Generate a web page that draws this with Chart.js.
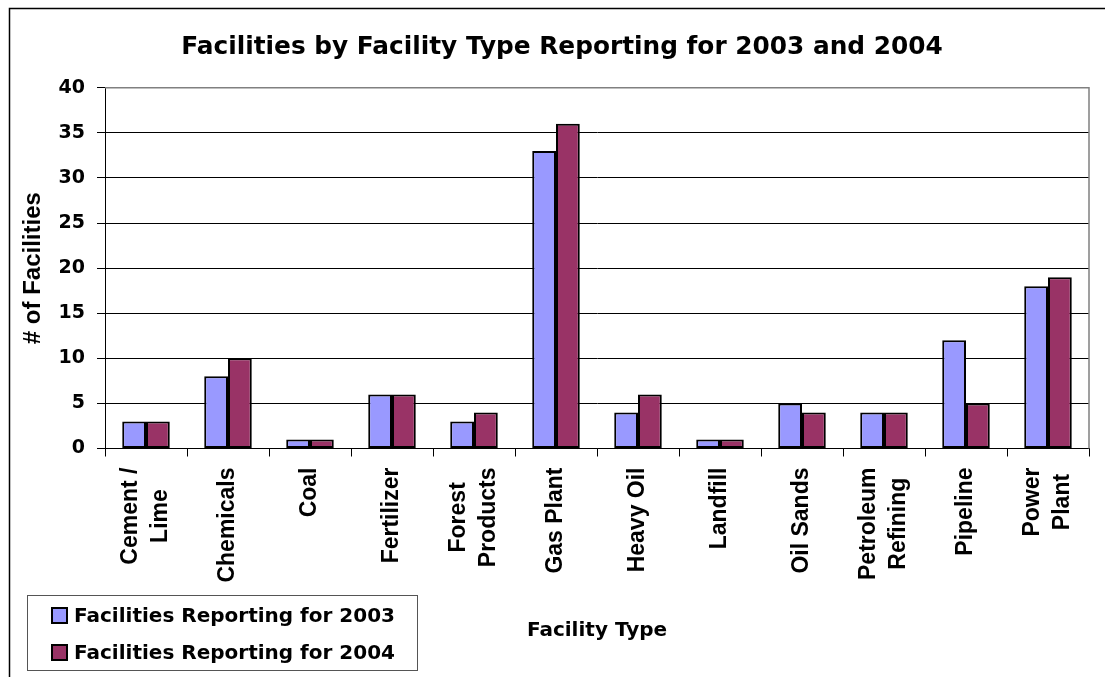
<!DOCTYPE html>
<html>
<head>
<meta charset="utf-8">
<title>Facilities by Facility Type Reporting for 2003 and 2004</title>
<script src="https://cdn.jsdelivr.net/npm/chart.js@4.4.1/dist/chart.umd.min.js"></script>
<style>
  html, body { margin: 0; padding: 0; background: #fff; }
  canvas { display: block; }
</style>
</head>
<body>
<canvas id="facilityChart" width="1105" height="677"></canvas>
<script>
// chart values
const facilityTypes = [['Cement /', 'Lime'], 'Chemicals', 'Coal', 'Fertilizer', ['Forest', 'Products'],
    'Gas Plant', 'Heavy Oil', 'Landfill', 'Oil Sands', ['Petroleum', 'Refining'], 'Pipeline', ['Power', 'Plant']];
const reporting2003 = [3, 8, 1, 6, 3, 33, 4, 1, 5, 4, 12, 18];
const reporting2004 = [3, 10, 1, 6, 4, 36, 6, 1, 4, 4, 5, 19];
const seriesNames = ['Facilities Reporting for 2003', 'Facilities Reporting for 2004'];
const yMin = 0;
const yMax = 40;
const yStep = 5;

const boldSans = '"DejaVu Sans", sans-serif';
const arialLike = '"Liberation Sans", Arial, sans-serif';

// white page with the black frame on the left and top
const framePlugin = {
    id: 'frame',
    beforeDraw: function(chart) {
        const ctx = chart.ctx;
        ctx.save();
        ctx.fillStyle = '#fff';
        ctx.fillRect(0, 0, chart.width, chart.height);
        ctx.strokeStyle = '#000';
        ctx.lineWidth = 1.5;
        ctx.beginPath();
        ctx.moveTo(9.5, chart.height);
        ctx.lineTo(9.5, 8.5);
        ctx.lineTo(chart.width, 8.5);
        ctx.stroke();
        ctx.restore();
    },
    afterDatasetsDraw: function(chart) {
        const a = chart.chartArea;
        const ctx = chart.ctx;
        ctx.save();
        ctx.strokeStyle = '#808080';
        ctx.lineWidth = 1.5;
        ctx.beginPath();
        ctx.moveTo(a.left, a.top);
        ctx.lineTo(a.right, a.top);
        ctx.lineTo(a.right, a.bottom);
        ctx.stroke();
        ctx.restore();
    }
};

// centre multi-line rotated category labels on their tick, lines centred on each other
const centreLabels = {
    id: 'centreLabels',
    afterLayout: function(chart) {
        const scale = chart.scales.x;
        const items = scale.getLabelItems();
        const ctx = chart.ctx;
        items.forEach(function(item) {
            const lines = Array.isArray(item.label) ? item.label : [item.label];
            ctx.save();
            ctx.font = item.font.string;
            const maxW = Math.max.apply(null, lines.map(function(l) { return ctx.measureText(l).width; }));
            ctx.restore();
            const lh = item.font.lineHeight;
            item.options.translation[0] -= (lines.length - 1) * lh / 2;
            item.options.translation[1] += maxW / 2;
            item.options.textAlign = 'center';
        });
    }
};

// boxed legend in the bottom left corner
const boxLegend = {
    id: 'boxLegend',
    afterDraw: function(chart) {
        const ctx = chart.ctx;
        ctx.save();
        ctx.strokeStyle = '#555';
        ctx.lineWidth = 1;
        ctx.strokeRect(27.5, 595.5, 390, 75);
        ctx.font = 'bold 20px ' + boldSans;
        ctx.textBaseline = 'middle';
        ctx.textAlign = 'left';
        chart.data.datasets.forEach(function(ds, i) {
            const cy = 615.5 + i * 37;
            ctx.fillStyle = ds.backgroundColor;
            ctx.fillRect(52, cy - 7.5, 15, 15);
            ctx.strokeStyle = '#000';
            ctx.lineWidth = 2;
            ctx.strokeRect(52, cy - 7.5, 15, 15);
            ctx.fillStyle = '#000';
            ctx.fillText(ds.label, 74, cy + 1);
        });
        ctx.restore();
    }
};

const ctx = document.getElementById('facilityChart').getContext('2d');
const facilityChart = new Chart(ctx, {
    type: 'bar',
    data: {
        labels: facilityTypes,
        datasets: [{
            label: seriesNames[0],
            data: reporting2003,
            backgroundColor: '#9999FF',
            borderColor: '#000',
            borderWidth: 2,
            borderSkipped: false
        }, {
            label: seriesNames[1],
            data: reporting2004,
            backgroundColor: '#993366',
            borderColor: '#000',
            borderWidth: 2,
            borderSkipped: false
        }]
    },
    options: {
        responsive: false,
        animation: false,
        categoryPercentage: 0.58,
        barPercentage: 1,
        layout: {
            padding: { left: 35, right: 16, top: 0, bottom: 0 }
        },
        plugins: {
            legend: { display: false },
            tooltip: { enabled: false },
            title: {
                display: true,
                text: 'Facilities by Facility Type Reporting for 2003 and 2004',
                color: '#000',
                font: { family: boldSans, size: 24.8, weight: 'bold' },
                padding: { top: 32.5, bottom: 25.5 }
            }
        },
        scales: {
            x: {
                grid: { offset: true, drawOnChartArea: false, drawTicks: true, tickLength: 8, color: '#000' },
                border: { color: '#000', width: 1 },
                ticks: {
                    minRotation: 90,
                    maxRotation: 90,
                    autoSkip: false,
                    padding: 11,
                    color: '#000',
                    font: { family: arialLike, size: 23, weight: 'bold', lineHeight: 1.3 }
                },
                title: {
                    display: true,
                    text: 'Facility Type',
                    color: '#000',
                    font: { family: boldSans, size: 20, weight: 'bold' },
                    padding: { top: 0, bottom: 34 }
                },
                afterFit: function(scale) {
                    scale.height = 228.5;
                    scale.paddingLeft = 0;
                    scale.paddingRight = 0;
                }
            },
            y: {
                min: yMin,
                max: yMax,
                ticks: {
                    stepSize: yStep,
                    padding: 12,
                    color: '#000',
                    font: { family: boldSans, size: 19, weight: 'bold' }
                },
                grid: {
                    color: function(c) { return c.tick && c.tick.value === yMax ? '#808080' : '#000'; },
                    tickColor: '#000',
                    tickLength: 8
                },
                border: { color: '#000' },
                title: {
                    display: true,
                    text: '# of Facilities',
                    color: '#000',
                    font: { family: arialLike, size: 24, weight: 'bold' },
                    padding: { top: -16.4, bottom: 0 }
                },
                afterFit: function(scale) { scale.width = 70; }
            }
        }
    },
    plugins: [framePlugin, centreLabels, boxLegend]
});
</script>
</body>
</html>
